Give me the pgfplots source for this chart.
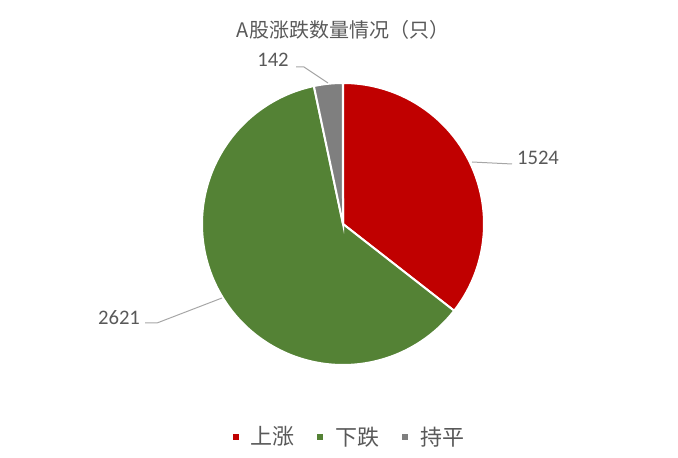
\documentclass[border=0pt]{standalone}
\usepackage{fontspec}
\setmainfont{Carlito}
\newfontfamily\cjk{Noto Sans CJK SC}
\usepackage{pgfplots}
\pgfplotsset{compat=1.18}

\definecolor{upred}{HTML}{C00000}
\definecolor{downgreen}{HTML}{548235}
\definecolor{flatgray}{HTML}{7F7F7F}
\definecolor{txt}{HTML}{595959}
\definecolor{leader}{HTML}{A6A6A6}

% A股涨跌数量
\def\nup{1524}
\def\ndown{2621}
\def\nflat{142}

\begin{document}
\begin{tikzpicture}
\pgfmathsetmacro{\total}{\nup+\ndown+\nflat}
\pgfmathsetmacro{\aA}{90}
\pgfmathsetmacro{\aB}{90-360*(\nup/\total)}
\pgfmathsetmacro{\aC}{\aB-360*(\ndown/\total)}
\pgfmathsetmacro{\aD}{\aC-360*(\nflat/\total)}
\begin{axis}[
  width=508.5pt, height=342.75pt, scale only axis,
  xmin=0, xmax=678, ymin=0, ymax=457,
  hide axis, clip=false,
  legend columns=3,
  legend style={at={(0.5125,0.044)}, anchor=center, draw=none, fill=none,
    font=\cjk\fontsize{16.5}{19}\selectfont, text=txt,
    nodes={inner xsep=0pt},
    /tikz/every odd column/.append style={column sep=7.5pt},
    /tikz/every even column/.append style={column sep=15.5pt}},
  legend image code/.code={\fill[#1] (0pt,-3pt) rectangle (6pt,3pt);},
]
% keep the whole canvas as the picture
\path (axis cs:0,0) rectangle (axis cs:678,457);

\addplot[fill=upred, draw=white, line width=1.5pt, domain=\aA:\aB, samples=120, variable=\t]
  ({343+141*cos(t)},{233+141*sin(t)}) -- (axis cs:343,233) -- cycle;
\addlegendentry{上涨}
\addplot[fill=downgreen, draw=white, line width=1.5pt, domain=\aB:\aC, samples=160, variable=\t]
  ({343+141*cos(t)},{233+141*sin(t)}) -- (axis cs:343,233) -- cycle;
\addlegendentry{下跌}
\addplot[fill=flatgray, draw=white, line width=1.5pt, domain=\aC:\aD, samples=20, variable=\t]
  ({343+141*cos(t)},{233+141*sin(t)}) -- (axis cs:343,233) -- cycle;
\addlegendentry{持平}

% title
\node[text=txt, font=\cjk\fontsize{15}{18}\selectfont] at (axis cs:343,427) {A股涨跌数量情况（只）};

% data labels with leader lines
\draw[leader, line width=0.75pt] (axis cs:296,390) -- (axis cs:304,390) -- (axis cs:328,374);
\node[text=txt, font=\fontsize{15.5}{18}\selectfont] at (axis cs:273,397) {\nflat};
\draw[leader, line width=0.75pt] (axis cs:472,295) -- (axis cs:512,293);
\node[text=txt, font=\fontsize{15.5}{18}\selectfont] at (axis cs:538,299) {\nup};
\draw[leader, line width=0.75pt] (axis cs:145,134) -- (axis cs:157,134) -- (axis cs:222,159);
\node[text=txt, font=\fontsize{15.5}{18}\selectfont] at (axis cs:119,139) {\ndown};
\end{axis}
\end{tikzpicture}
\end{document}
